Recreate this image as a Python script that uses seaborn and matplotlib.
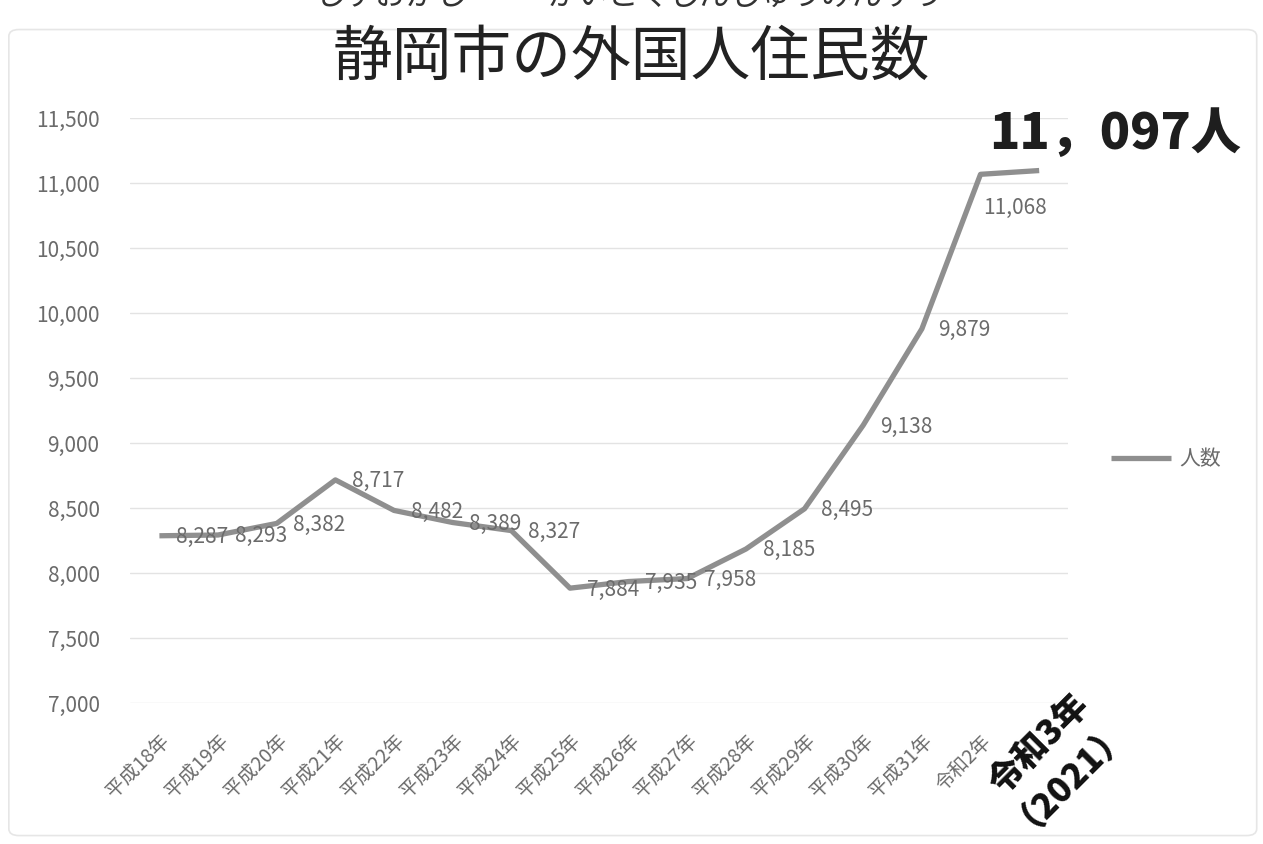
import pandas as pd
import numpy as np
import seaborn as sns
import matplotlib.pyplot as plt
from matplotlib.patches import FancyBboxPatch
from matplotlib.ticker import FuncFormatter, MultipleLocator

# data
years = ["平成18年", "平成19年", "平成20年", "平成21年", "平成22年", "平成23年",
         "平成24年", "平成25年", "平成26年", "平成27年", "平成28年", "平成29年",
         "平成30年", "平成31年", "令和2年", "令和3年\n（2021）"]
residents = [8287, 8293, 8382, 8717, 8482, 8389, 8327, 7884, 7935, 7958,
             8185, 8495, 9138, 9879, 11068, 11097]

df = pd.DataFrame({"pos": np.arange(len(years)), "人数": residents})

sns.set_theme(style="white")
plt.rcParams['font.family'] = ['Noto Sans CJK JP', 'DejaVu Sans']

gray_text = "#6b6b6b"
line_color = "#8f8f8f"

fig = plt.figure(figsize=(12.63, 8.44), dpi=100)
ax = fig.add_axes([0.103, 0.167, 0.743, 0.693])

sns.lineplot(data=df, x="pos", y="人数", ax=ax, color=line_color,
             linewidth=3.8, label="人数", solid_capstyle="butt")

ax.set_xlim(-0.5, len(years) - 0.5)
ax.set_ylim(7000, 11500)
ax.yaxis.set_major_locator(MultipleLocator(500))
ax.yaxis.set_major_formatter(FuncFormatter(lambda v, p: f"{int(v):,}"))
ax.grid(axis="y", color="#e3e3e3", linewidth=1)
ax.set_axisbelow(True)
for s in ax.spines.values():
    s.set_visible(False)
ax.set_xlabel("")
ax.set_ylabel("")
ax.tick_params(axis="y", labelsize=15, labelcolor=gray_text, pad=22, length=0)

# x tick labels, the last one is drawn separately
ax.set_xticks(df["pos"])
ax.set_xticklabels(years[:-1] + [""], rotation=45, ha="right", va="top",
                   rotation_mode="anchor", fontsize=14, color=gray_text)
ax.tick_params(axis="x", pad=20, length=0)
ax.annotate(years[-1], xy=(df["pos"].iloc[-1], 0), xycoords=("data", "axes fraction"),
            xytext=(9, -38), textcoords="offset points", rotation=45,
            ha="center", va="center", fontsize=25, fontweight="heavy",
            color="#111111", multialignment="center", linespacing=0.95,
            annotation_clip=False)

# data labels
for i, (x, v) in enumerate(zip(df["pos"], df["人数"])):
    if i == len(years) - 1:
        continue
    if i == len(years) - 2:
        ax.annotate(f"{v:,}", xy=(x, v), xytext=(2, -24), textcoords="offset points",
                    ha="left", va="center", fontsize=15, color=gray_text)
    else:
        ax.annotate(f"{v:,}", xy=(x, v), xytext=(12, -1), textcoords="offset points",
                    ha="left", va="center", fontsize=15, color=gray_text)

# highlighted latest value
ax.annotate("11，097人", xy=(df["pos"].iloc[-1], residents[-1]),
            xytext=(55, 26), textcoords="offset points", ha="center", va="center",
            fontsize=36, fontweight="heavy", color="#1e1e1e", annotation_clip=False)

leg = ax.legend(loc="center left", bbox_to_anchor=(1.025, 0.417), frameon=False,
                fontsize=15, handlelength=2.9, handletextpad=0.4)
for t in leg.get_texts():
    t.set_color(gray_text)

# titles
fig.text(0.5, 0.931, "静岡市の外国人住民数", ha="center", va="center",
         fontsize=43, color="#222222")
fig.text(0.31, 0.986, "しずおかし", ha="center", va="bottom", fontsize=22, color="#333333")
fig.text(0.59, 0.986, "がいこくじんじゅうみんすう", ha="center", va="bottom",
         fontsize=22, color="#333333")

# chart area border
fig.patches.append(FancyBboxPatch((0.007, 0.01), 0.988, 0.955,
                                  boxstyle="round,pad=0,rounding_size=0.008",
                                  transform=fig.transFigure, fill=False,
                                  edgecolor="#e6e6e6", linewidth=1.2))

plt.savefig("out.png", dpi=100)
plt.close()
